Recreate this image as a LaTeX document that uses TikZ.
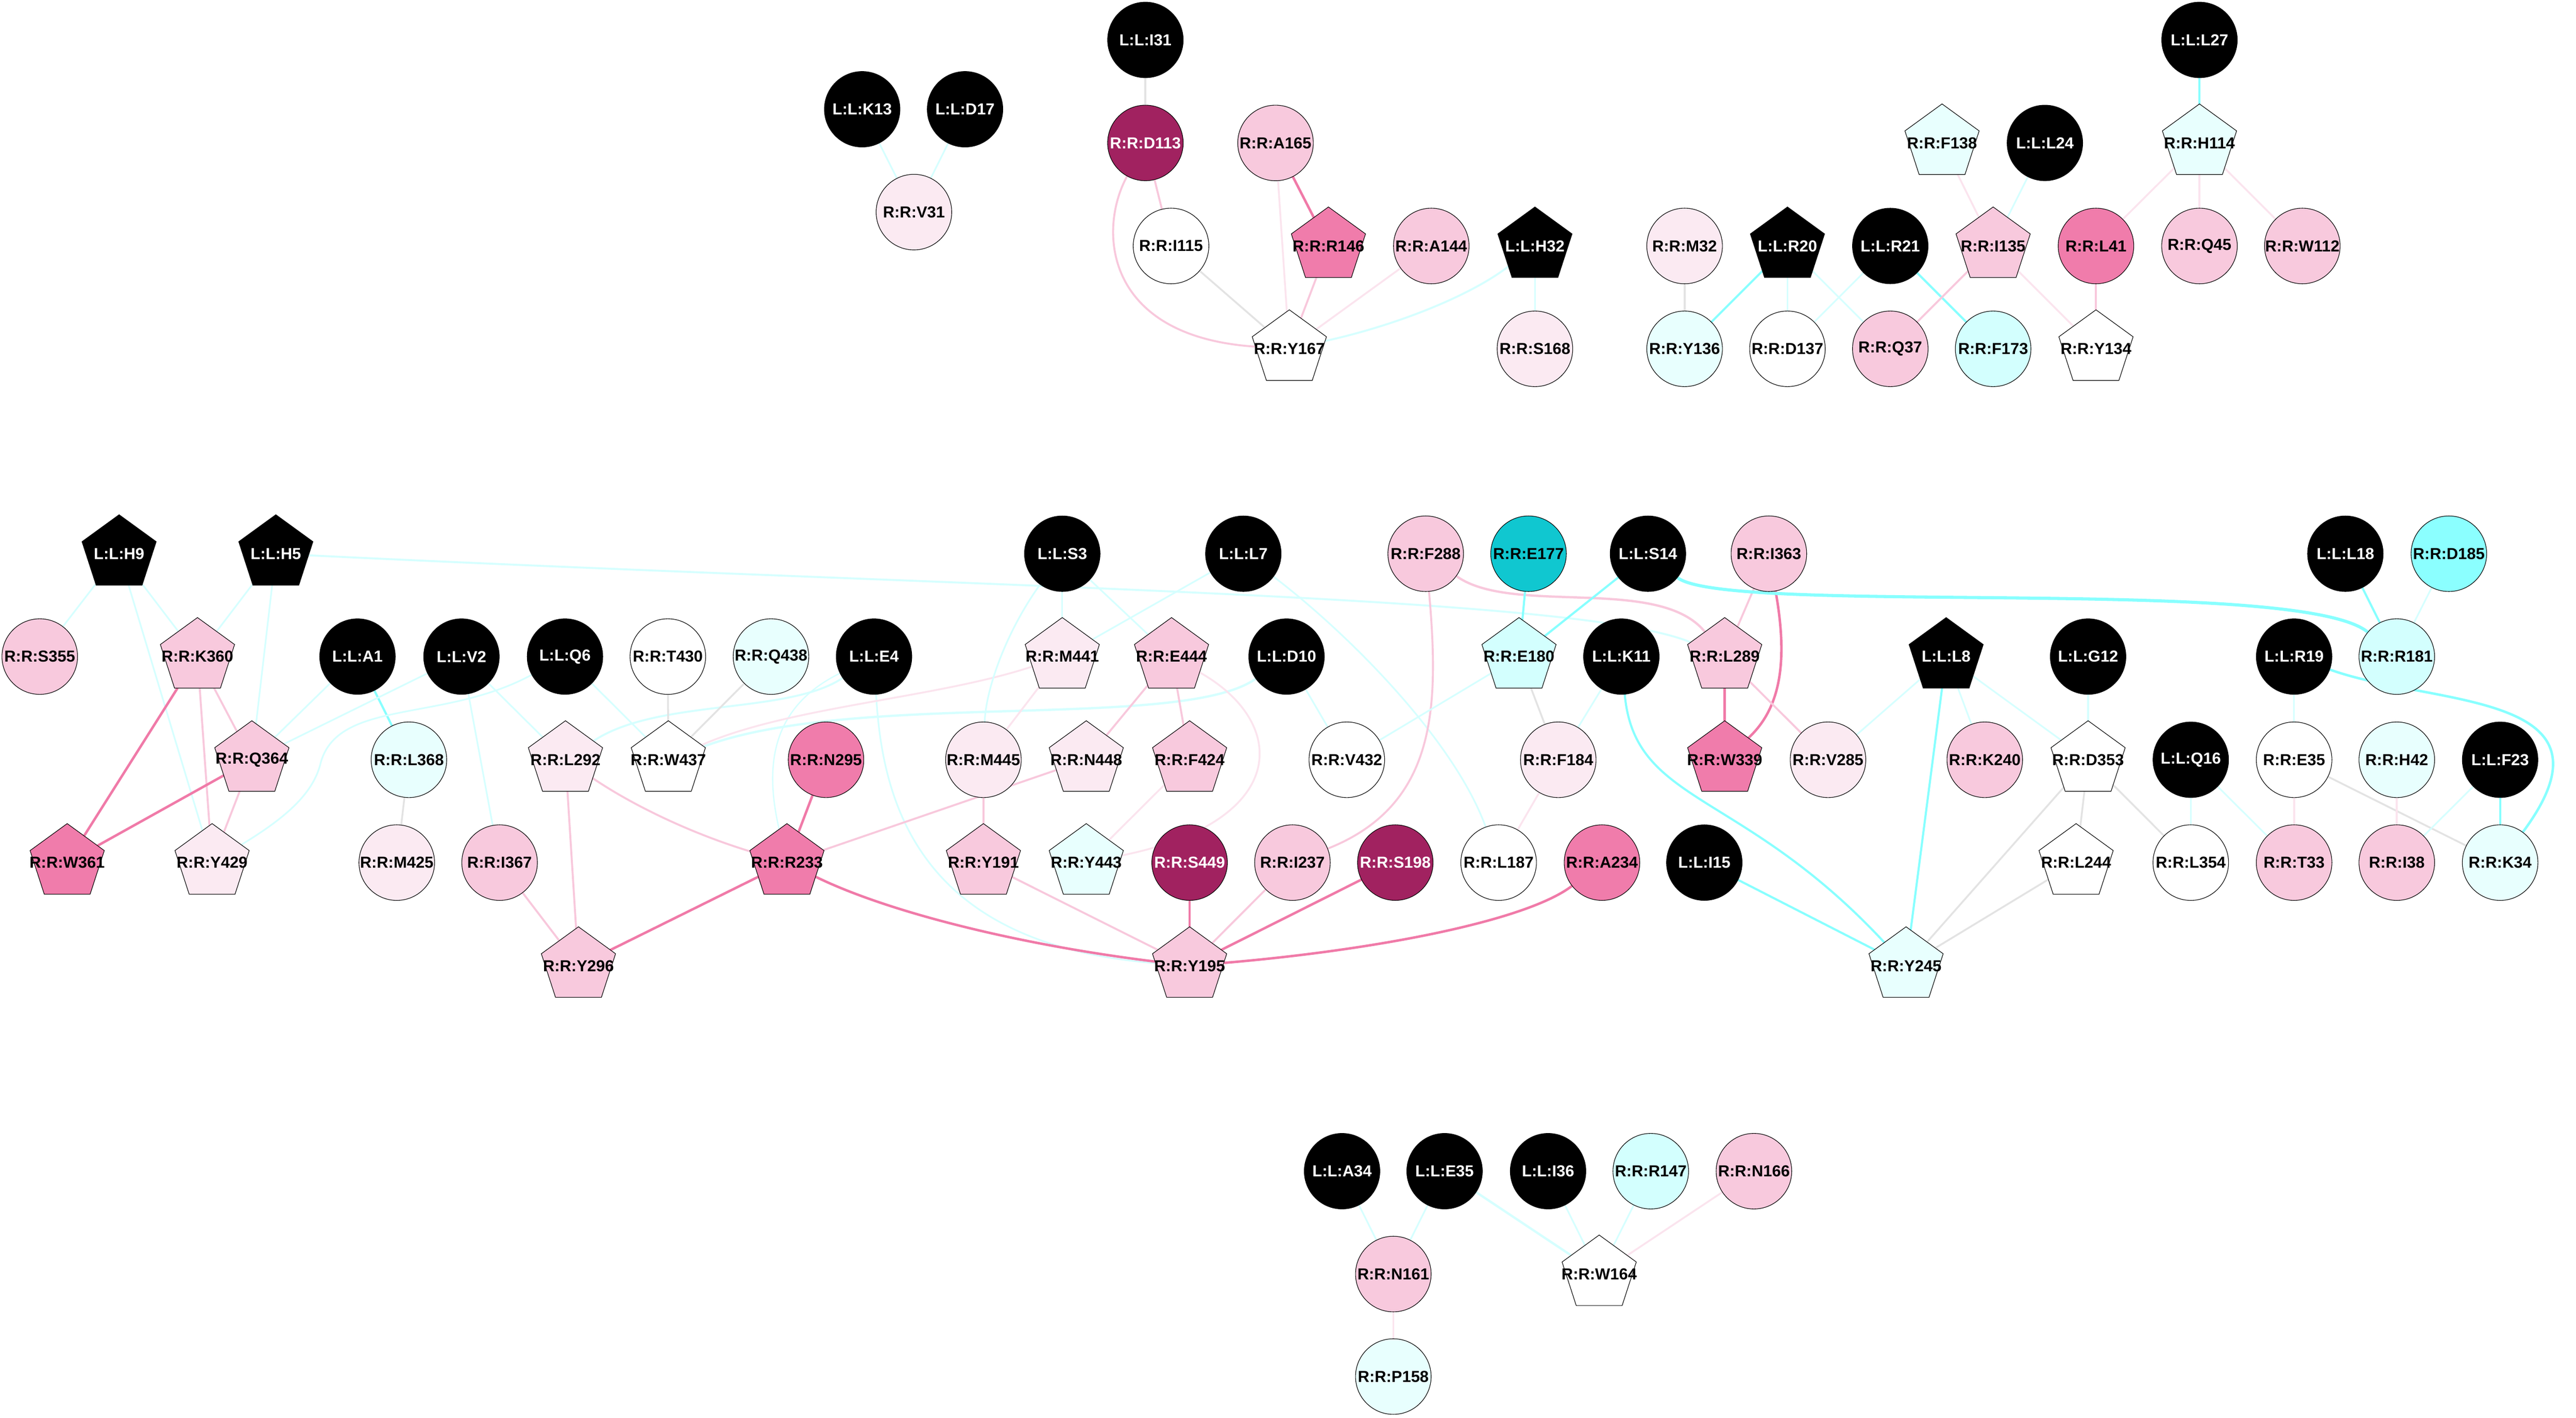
\documentclass[tikz,border=0pt]{standalone}
\usepackage{fontspec}
\setmainfont{Liberation Sans}
\usetikzlibrary{shapes.geometric,backgrounds}
\definecolor{cDM}{HTML}{A12260}
\definecolor{cSP}{HTML}{F07CAB}
\definecolor{cLP}{HTML}{F8C9DD}
\definecolor{cPP}{HTML}{FBEAF2}
\definecolor{cPC}{HTML}{E8FFFE}
\definecolor{cLC}{HTML}{D3FFFE}
\definecolor{cTeal}{HTML}{10C7D0}
\definecolor{cAqua}{HTML}{8BFFFF}
\definecolor{ePCc}{HTML}{D6FFFF}
\definecolor{eMCc}{HTML}{88FFFF}
\definecolor{eLPc}{HTML}{F8C8DC}
\definecolor{ePPc}{HTML}{FBE4EE}
\definecolor{eSPc}{HTML}{F07AA8}
\definecolor{eGRc}{HTML}{E3E3E3}
\newcommand{\lbl}[1]{\makebox[0pt]{#1}}
\tikzset{
  nd/.style={inner sep=0pt, outer sep=0pt, draw=black, line width=0.35pt, font=\fontsize{9.7}{10}\selectfont\bfseries},
  cir/.style={nd, circle, minimum size=46pt},
  pent/.style={nd, regular polygon, regular polygon sides=5, minimum size=47.5pt},
  fL/.style={fill=black, text=white},
  fDM/.style={fill=cDM, text=white},
  fSP/.style={fill=cSP},
  fLP/.style={fill=cLP},
  fPP/.style={fill=cPP},
  fW/.style={fill=white},
  fPC/.style={fill=cPC},
  fLC/.style={fill=cLC},
  fTeal/.style={fill=cTeal},
  fAqua/.style={fill=cAqua},
  ePC/.style={draw=ePCc, line width=1.0pt},
  eMC/.style={draw=eMCc, line width=1.3pt},
  eLP/.style={draw=eLPc, line width=1.2pt},
  ePP/.style={draw=ePPc, line width=1.1pt},
  eSP/.style={draw=eSPc, line width=1.5pt},
  eGR/.style={draw=eGRc, line width=1.1pt}
}
\begin{document}
\begin{tikzpicture}[x=1pt,y=-1pt]
\useasboundingbox (0,0) rectangle (1568,862.8);
% row 1
\node[cir,fL] (LI31) at (697.2,24.3) {\lbl{L:L:I31}};
\node[cir,fL] (LL27) at (1338.8,24.3) {\lbl{L:L:L27}};
% row 2
\node[cir,fL] (LK13) at (524.8,66.5) {\lbl{L:L:K13}};
\node[cir,fL] (LD17) at (587.4,66.5) {\lbl{L:L:D17}};
% row 3
\node[cir,fDM] (RD113) at (697.2,87) {\lbl{R:R:D113}};
\node[cir,fLP] (RA165) at (776.4,87) {\lbl{R:R:A165}};
\node[pent,fPC] (RF138) at (1182.1,87) {\lbl{R:R:F138}};
\node[cir,fL] (LL24) at (1244.7,87) {\lbl{L:L:L24}};
\node[pent,fPC] (RH114) at (1338.8,87) {\lbl{R:R:H114}};
% row 4
\node[cir,fPP] (RV31) at (556.3,129.1) {\lbl{R:R:V31}};
% row 5
\node[cir,fW] (RI115) at (712.8,149.7) {\lbl{R:R:I115}};
\node[pent,fSP] (RR146) at (808.6,149.7) {\lbl{R:R:R146}};
\node[cir,fLP] (RA144) at (871.2,149.7) {\lbl{R:R:A144}};
\node[pent,fL] (LH32) at (934.3,149.7) {\lbl{L:L:H32}};
\node[cir,fPP] (RM32) at (1025.4,149.7) {\lbl{R:R:M32}};
\node[pent,fL] (LR20) at (1088,149.7) {\lbl{L:L:R20}};
\node[cir,fL] (LR21) at (1150.6,149.7) {\lbl{L:L:R21}};
\node[pent,fLP] (RI135) at (1213.2,149.7) {\lbl{R:R:I135}};
\node[cir,fSP] (RL41) at (1275.8,149.7) {\lbl{R:R:L41}};
\node[cir,fLP] (RQ45) at (1338.8,149.7) {\lbl{R:R:Q45}};
\node[cir,fLP] (RW112) at (1401.4,149.7) {\lbl{R:R:W112}};
% row 6
\node[pent,fW] (RY167) at (784.8,212.3) {\lbl{R:R:Y167}};
\node[cir,fPP] (RS168) at (934.3,212.3) {\lbl{R:R:S168}};
\node[cir,fPC] (RY136) at (1025.4,212.3) {\lbl{R:R:Y136}};
\node[cir,fW] (RD137) at (1088,212.3) {\lbl{R:R:D137}};
\node[cir,fLP] (RQ37) at (1150.6,212.3) {\lbl{R:R:Q37}};
\node[cir,fLC] (RF173) at (1213.2,212.3) {\lbl{R:R:F173}};
\node[pent,fW] (RY134) at (1275.8,212.3) {\lbl{R:R:Y134}};
% row 7
\node[pent,fL] (LH9) at (72.5,337) {\lbl{L:L:H9}};
\node[pent,fL] (LH5) at (167.9,337) {\lbl{L:L:H5}};
\node[cir,fL] (LS3) at (646.6,337) {\lbl{L:L:S3}};
\node[cir,fL] (LL7) at (756.8,337) {\lbl{L:L:L7}};
\node[cir,fLP] (RF288) at (867.8,337) {\lbl{R:R:F288}};
\node[cir,fTeal] (RE177) at (930.4,337) {\lbl{R:R:E177}};
\node[cir,fL] (LS14) at (1003.1,337) {\lbl{L:L:S14}};
\node[cir,fLP] (RI363) at (1076.7,337) {\lbl{R:R:I363}};
\node[cir,fL] (LL18) at (1427.6,337) {\lbl{L:L:L18}};
\node[cir,fAqua] (RD185) at (1490.6,337) {\lbl{R:R:D185}};
% row 8
\node[cir,fLP] (RS355) at (24.2,399.6) {\lbl{R:R:S355}};
\node[pent,fLP] (RK360) at (120.2,399.6) {\lbl{R:R:K360}};
\node[cir,fL] (LA1) at (217.6,399.6) {\lbl{L:L:A1}};
\node[cir,fL] (LV2) at (280.9,399.6) {\lbl{L:L:V2}};
\node[cir,fL] (LQ6) at (343.9,399.6) {\lbl{L:L:Q6}};
\node[cir,fW] (RT430) at (406.5,399.6) {\lbl{R:R:T430}};
\node[cir,fPC] (RQ438) at (469.3,399.6) {\lbl{R:R:Q438}};
\node[cir,fL] (LE4) at (532,399.6) {\lbl{L:L:E4}};
\node[pent,fPP] (RM441) at (646.6,399.6) {\lbl{R:R:M441}};
\node[pent,fLP] (RE444) at (713.1,399.6) {\lbl{R:R:E444}};
\node[cir,fL] (LD10) at (783.1,399.6) {\lbl{L:L:D10}};
\node[pent,fLC] (RE180) at (924.6,399.6) {\lbl{R:R:E180}};
\node[cir,fL] (LK11) at (986.9,399.6) {\lbl{L:L:K11}};
\node[pent,fLP] (RL289) at (1049.8,399.6) {\lbl{R:R:L289}};
\node[pent,fL] (LL8) at (1184.6,399.6) {\lbl{L:L:L8}};
\node[cir,fL] (LG12) at (1271,399.6) {\lbl{L:L:G12}};
\node[cir,fL] (LR19) at (1396.4,399.6) {\lbl{L:L:R19}};
\node[cir,fLC] (RR181) at (1458.9,399.6) {\lbl{R:R:R181}};
% row 9
\node[pent,fLP] (RQ364) at (153.3,462.4) {\lbl{R:R:Q364}};
\node[cir,fPC] (RL368) at (248.9,462.4) {\lbl{R:R:L368}};
\node[pent,fPP] (RL292) at (344.2,462.4) {\lbl{R:R:L292}};
\node[pent,fW] (RW437) at (406.8,462.4) {\lbl{R:R:W437}};
\node[cir,fSP] (RN295) at (502.8,462.4) {\lbl{R:R:N295}};
\node[cir,fPP] (RM445) at (598.6,462.4) {\lbl{R:R:M445}};
\node[pent,fPP] (RN448) at (661.2,462.4) {\lbl{R:R:N448}};
\node[pent,fLP] (RF424) at (724.1,462.4) {\lbl{R:R:F424}};
\node[cir,fW] (RV432) at (819.8,462.4) {\lbl{R:R:V432}};
\node[cir,fPP] (RF184) at (948.5,462.4) {\lbl{R:R:F184}};
\node[pent,fSP] (RW339) at (1049.8,462.4) {\lbl{R:R:W339}};
\node[cir,fPP] (RV285) at (1112.7,462.4) {\lbl{R:R:V285}};
\node[cir,fLP] (RK240) at (1208.1,462.4) {\lbl{R:R:K240}};
\node[pent,fW] (RD353) at (1271,462.4) {\lbl{R:R:D353}};
\node[cir,fL] (LQ16) at (1333.5,462.4) {\lbl{L:L:Q16}};
\node[cir,fW] (RE35) at (1396.4,462.4) {\lbl{R:R:E35}};
\node[cir,fPC] (RH42) at (1458.9,462.4) {\lbl{R:R:H42}};
\node[cir,fL] (LF23) at (1521.8,462.4) {\lbl{L:L:F23}};
% row 10
\node[pent,fSP] (RW361) at (40.9,525) {\lbl{R:R:W361}};
\node[pent,fPP] (RY429) at (129.1,525) {\lbl{R:R:Y429}};
\node[cir,fPP] (RM425) at (241.5,525) {\lbl{R:R:M425}};
\node[cir,fLP] (RI367) at (304.1,525) {\lbl{R:R:I367}};
\node[pent,fSP] (RR233) at (479,525) {\lbl{R:R:R233}};
\node[pent,fLP] (RY191) at (598.6,525) {\lbl{R:R:Y191}};
\node[pent,fPC] (RY443) at (661.2,525) {\lbl{R:R:Y443}};
\node[cir,fDM] (RS449) at (724.1,525) {\lbl{R:R:S449}};
\node[cir,fLP] (RI237) at (786.7,525) {\lbl{R:R:I237}};
\node[cir,fDM] (RS198) at (849.3,525) {\lbl{R:R:S198}};
\node[cir,fW] (RL187) at (912.2,525) {\lbl{R:R:L187}};
\node[cir,fSP] (RA234) at (975.1,525) {\lbl{R:R:A234}};
\node[cir,fL] (LI15) at (1037.4,525) {\lbl{L:L:I15}};
\node[pent,fW] (RL244) at (1263.7,525) {\lbl{R:R:L244}};
\node[cir,fW] (RL354) at (1333.5,525) {\lbl{R:R:L354}};
\node[cir,fLP] (RT33) at (1396.4,525) {\lbl{R:R:T33}};
\node[cir,fLP] (RI38) at (1458.9,525) {\lbl{R:R:I38}};
\node[cir,fPC] (RK34) at (1521.8,525) {\lbl{R:R:K34}};
% row 11
\node[pent,fLP] (RY296) at (352.1,587.8) {\lbl{R:R:Y296}};
\node[pent,fLP] (RY195) at (724.1,587.8) {\lbl{R:R:Y195}};
\node[pent,fPC] (RY245) at (1160.2,587.8) {\lbl{R:R:Y245}};
% bottom
\node[cir,fL] (LA34) at (816.9,712.8) {\lbl{L:L:A34}};
\node[cir,fL] (LE35) at (879.3,712.8) {\lbl{L:L:E35}};
\node[cir,fL] (LI36) at (942.3,712.8) {\lbl{L:L:I36}};
\node[cir,fLC] (RR147) at (1004.8,712.8) {\lbl{R:R:R147}};
\node[cir,fLP] (RN166) at (1067.6,712.8) {\lbl{R:R:N166}};
\node[cir,fLP] (RN161) at (848.1,775.4) {\lbl{R:R:N161}};
\node[pent,fW] (RW164) at (973.4,775.4) {\lbl{R:R:W164}};
\node[cir,fPC] (RP158) at (848.1,837.8) {\lbl{R:R:P158}};

\begin{pgfonlayer}{background}
\fill[white] (0,0) rectangle (1568,862.8);
% top-left cluster
\draw[ePC] (LK13) -- (RV31);
\draw[ePC] (LD17) -- (RV31);
\draw[eGR] (LI31) -- (RD113);
\draw[eLP] (RD113) -- (RI115);
\draw[eLP] (RD113) .. controls (668,140) and (672,205) .. (RY167);
\draw[ePP] (RA165) -- (RY167);
\draw[eSP] (RA165) -- (RR146);
\draw[eLP] (RR146) -- (RY167);
\draw[ePP] (RA144) -- (RY167);
\draw[eGR] (RI115) -- (RY167);
\draw[ePC, line width=1.2pt] (LH32) .. controls (895,180) and (850,198) .. (RY167);
\draw[ePC] (LH32) -- (RS168);
% top-right cluster
\draw[eMC] (LL27) -- (RH114);
\draw[ePP] (RH114) -- (RL41);
\draw[ePP] (RH114) -- (RQ45);
\draw[ePP] (RH114) -- (RW112);
\draw[ePP] (RF138) -- (RI135);
\draw[ePC] (LL24) -- (RI135);
\draw[eGR] (RM32) -- (RY136);
\draw[eMC] (LR20) -- (RY136);
\draw[ePC] (LR20) -- (RD137);
\draw[ePC] (LR20) -- (RQ37);
\draw[ePC] (LR21) -- (RD137);
\draw[eMC] (LR21) -- (RF173);
\draw[eLP] (RI135) -- (RQ37);
\draw[ePP] (RI135) -- (RY134);
\draw[eLP] (RL41) -- (RY134);
% middle-left
\draw[ePC] (LH9) -- (RS355);
\draw[ePC] (LH9) -- (RK360);
\draw[ePC] (LH9) -- (RY429);
\draw[ePC] (LH5) -- (RK360);
\draw[ePC] (LH5) -- (RQ364);
\draw[ePC, line width=1.2pt] (LH5) .. controls (600,358) and (960,362) .. (RL289);
\draw[eSP] (RK360) -- (RW361);
\draw[eLP] (RK360) -- (RQ364);
\draw[eLP] (RK360) -- (RY429);
\draw[eSP] (RQ364) -- (RW361);
\draw[eLP] (RQ364) -- (RY429);
\draw[ePC] (LA1) -- (RQ364);
\draw[eMC] (LA1) -- (RL368);
\draw[ePC] (LV2) -- (RQ364);
\draw[ePC] (LV2) -- (RI367);
\draw[ePC] (LV2) -- (RL292);
\draw[ePC] (LQ6) .. controls (270,440) and (205,425) .. (195,465) .. controls (190,485) and (170,500) .. (RY429);
\draw[ePC] (LQ6) -- (RW437);
\draw[ePC, line width=1.2pt] (LE4) .. controls (480,435) and (400,425) .. (RL292);
\draw[ePC, line width=0.8pt] (LE4) .. controls (470,430) and (465,465) .. (RR233);
\draw[ePC] (LE4) .. controls (537,490) and (560,575) .. (RY195);
\draw[ePC, line width=1.4pt] (LD10) .. controls (720,445) and (520,420) .. (RW437);
\draw[ePP] (RM441) .. controls (570,425) and (480,430) .. (RW437);
\draw[eGR] (RT430) -- (RW437);
\draw[eGR] (RQ438) -- (RW437);
\draw[eGR] (RL368) -- (RM425);
\draw[eLP] (RL292) -- (RY296);
\draw[eLP] (RL292) .. controls (385,490) and (420,507) .. (RR233);
\draw[eLP] (RI367) -- (RY296);
\draw[eSP] (RN295) -- (RR233);
\draw[eSP] (RR233) -- (RY296);
\draw[eSP] (RR233) .. controls (540,555) and (620,575) .. (RY195);
\draw[eLP] (RR233) -- (RN448);
% middle-centre
\draw[ePC] (LS3) -- (RM441);
\draw[ePC] (LS3) -- (RE444);
\draw[ePC] (LS3) .. controls (612,385) and (600,420) .. (RM445);
\draw[ePC] (LL7) -- (RM441);
\draw[ePC] (LL7) .. controls (820,385) and (885,450) .. (RL187);
\draw[ePP] (RM441) -- (RM445);
\draw[eLP] (RE444) -- (RN448);
\draw[eLP] (RE444) -- (RF424);
\draw[ePP] (RE444) .. controls (785,440) and (785,500) .. (RY443);
\draw[ePP] (RF424) -- (RY443);
\draw[ePC] (LD10) -- (RV432);
\draw[eLP] (RM445) -- (RY191);
\draw[eLP] (RY191) -- (RY195);
\draw[eSP] (RS449) -- (RY195);
\draw[eLP] (RI237) -- (RY195);
\draw[eSP] (RS198) -- (RY195);
\draw[eSP] (RA234) .. controls (930,560) and (840,578) .. (RY195);
\draw[eLP] (RF288) .. controls (876,430) and (875,490) .. (RI237);
\draw[eLP, line width=1.4pt] (RF288) .. controls (920,375) and (1010,350) .. (RL289);
\draw[eMC] (RE177) -- (RE180);
\draw[eGR] (RE180) -- (RF184);
\draw[ePC] (RE180) -- (RV432);
\draw[eMC] (LS14) -- (RE180);
\draw[ePC] (LK11) -- (RF184);
\draw[ePP] (RF184) -- (RL187);
\draw[eMC] (LK11) .. controls (995,490) and (1060,480) .. (RY245);
% middle-right
\draw[eMC] (LL8) -- (RY245);
\draw[ePC] (LL8) -- (RV285);
\draw[ePC] (LL8) -- (RK240);
\draw[ePC] (LL8) -- (RD353);
\draw[ePC] (LG12) -- (RD353);
\draw[eGR] (RD353) -- (RY245);
\draw[eGR] (RD353) -- (RL244);
\draw[eGR] (RD353) -- (RL354);
\draw[eGR] (RL244) -- (RY245);
\draw[eMC] (LI15) -- (RY245);
\draw[eLP] (RI363) -- (RL289);
\draw[eSP] (RI363) .. controls (1088,400) and (1085,430) .. (RW339);
\draw[eSP] (RL289) -- (RW339);
\draw[eLP] (RL289) -- (RV285);
\draw[eMC, line width=1.9pt] (LS14) .. controls (1050,375) and (1400,350) .. (RR181);
\draw[eMC] (LL18) -- (RR181);
\draw[ePC] (RD185) -- (RR181);
\draw[ePC] (LR19) -- (RE35);
\draw[eMC, line width=1.5pt] (LR19) .. controls (1480,430) and (1600,420) .. (RK34);
\draw[ePC] (LQ16) -- (RL354);
\draw[ePC] (LQ16) -- (RT33);
\draw[ePP] (RE35) -- (RT33);
\draw[eGR] (RE35) -- (RK34);
\draw[ePP] (RH42) -- (RI38);
\draw[ePC] (LF23) -- (RI38);
\draw[eMC] (LF23) -- (RK34);
% bottom
\draw[ePC] (LA34) -- (RN161);
\draw[ePC] (LE35) -- (RN161);
\draw[ePC, line width=1.4pt] (LE35) -- (RW164);
\draw[ePC] (LI36) -- (RW164);
\draw[ePC] (RR147) -- (RW164);
\draw[ePP] (RN166) -- (RW164);
\draw[ePP] (RN161) -- (RP158);
\end{pgfonlayer}
\end{tikzpicture}
\end{document}
